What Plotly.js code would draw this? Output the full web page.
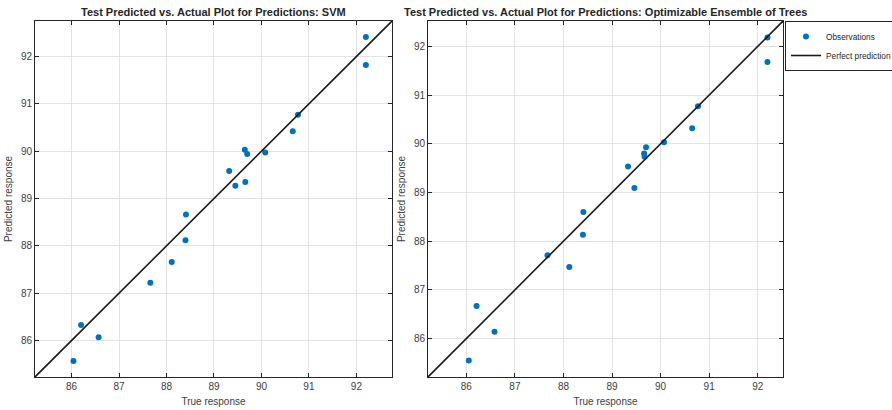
<!DOCTYPE html>
<html>
<head>
<meta charset="utf-8">
<script src="https://cdn.plot.ly/plotly-3.0.1.min.js"></script>
<style>html,body{margin:0;padding:0;background:#fff;overflow:hidden;width:892px;height:410px;}#chart{width:940px;height:410px;}</style>
</head>
<body>
<div id="chart"></div>
<script>
// True responses (shared by both models)
const trueSVM = [92.20, 92.20, 90.77, 90.66, 89.65, 89.70, 90.08, 89.32, 89.45, 89.66, 88.41, 88.40, 88.11, 87.66, 86.20, 86.57, 86.04];
const predSVM = [92.41, 91.82, 90.77, 90.42, 90.03, 89.94, 89.97, 89.58, 89.27, 89.35, 88.66, 88.12, 87.66, 87.22, 86.33, 86.07, 85.57];

const trueEns = [92.20, 92.20, 90.77, 90.65, 89.70, 89.66, 89.67, 90.07, 89.33, 89.46, 88.41, 88.40, 87.67, 88.12, 86.21, 86.58, 86.05];
const predEns = [92.18, 91.68, 90.77, 90.32, 89.93, 89.80, 89.73, 90.03, 89.53, 89.09, 88.60, 88.13, 87.71, 87.47, 86.67, 86.14, 85.55];

const tickVals = [86, 87, 88, 89, 90, 91, 92];
const rangeSVM = [85.23, 92.75];
const rangeEns = [85.21, 92.52];

const titleSVM = 'Test Predicted vs. Actual Plot for Predictions: SVM';
const titleEns = 'Test Predicted vs. Actual Plot for Predictions: Optimizable Ensemble of Trees';

const blue = '#0072BD';
const axCol = '#262626';
const fontFam = '"Liberation Sans", Arial, Helvetica, sans-serif';

const traces = [
  {x: trueSVM, y: predSVM, type: 'scatter', mode: 'markers', name: 'Observations',
   marker: {color: blue, size: 6}, xaxis: 'x', yaxis: 'y', showlegend: false},
  {x: rangeSVM, y: rangeSVM, type: 'scatter', mode: 'lines', name: 'Perfect prediction',
   line: {color: '#1a1a1a', width: 1.6}, xaxis: 'x', yaxis: 'y', showlegend: false},
  {x: trueEns, y: predEns, type: 'scatter', mode: 'markers', name: 'Observations',
   marker: {color: blue, size: 6}, xaxis: 'x2', yaxis: 'y2'},
  {x: rangeEns, y: rangeEns, type: 'scatter', mode: 'lines', name: 'Perfect prediction',
   line: {color: '#1a1a1a', width: 1.6}, xaxis: 'x2', yaxis: 'y2'}
];

function ax(range, extra) {
  return Object.assign({
    range: range, tickvals: tickVals, ticktext: tickVals.map(String),
    showgrid: true, gridcolor: '#e3e3e3', gridwidth: 1,
    zeroline: false, showline: true, linecolor: axCol, linewidth: 1,
    mirror: 'ticks', ticks: 'inside', ticklen: 4, tickcolor: axCol,
    tickfont: {family: fontFam, size: 10, color: '#404040'},
    fixedrange: true
  }, extra);
}

const FULLW = 940;
const L = 35, R = FULLW - 783, T = 21, B = 33;
const W = FULLW - L - R;
const titleFont = {family: fontFam, size: 10, color: '#404040'};

const layout = {
  width: FULLW, height: 410,
  margin: {l: L, r: R, t: T, b: B, pad: 0, autoexpand: false},
  paper_bgcolor: '#fff', plot_bgcolor: '#fff',
  font: {family: fontFam, color: axCol},
  showlegend: true,
  legend: {
    x: (785 - L) / W, y: 1, xanchor: 'left', yanchor: 'top',
    bgcolor: '#fff', bordercolor: axCol, borderwidth: 1,
    font: {family: fontFam, size: 8.3, color: axCol},
    itemwidth: 30, tracegroupgap: 0
  },
  xaxis: ax(rangeSVM, {domain: [0, (392 - L) / W], anchor: 'y',
    title: {text: 'True response', font: titleFont, standoff: 6}}),
  yaxis: ax(rangeSVM, {domain: [0, 1], anchor: 'x',
    title: {text: 'Predicted response', font: titleFont, standoff: 6}}),
  xaxis2: ax(rangeEns, {domain: [(428 - L) / W, 1], anchor: 'y2',
    title: {text: 'True response', font: titleFont, standoff: 6}}),
  yaxis2: ax(rangeEns, {domain: [0, 1], anchor: 'x2',
    title: {text: 'Predicted response', font: titleFont, standoff: 6}}),
  annotations: [
    {text: '<b>' + titleSVM + '</b>', xref: 'x domain', yref: 'y domain', x: 0.5, y: 1,
     xanchor: 'center', yanchor: 'bottom', yshift: 1, showarrow: false,
     font: {family: fontFam, size: 11, color: axCol}},
    {text: '<b>' + titleEns + '</b>', xref: 'x2 domain', yref: 'y2 domain', x: 0.5, y: 1,
     xanchor: 'center', yanchor: 'bottom', yshift: 1, showarrow: false,
     font: {family: fontFam, size: 11, color: axCol}}
  ]
};

Plotly.newPlot('chart', traces, layout, {displayModeBar: false, staticPlot: true});
</script>
</body>
</html>
